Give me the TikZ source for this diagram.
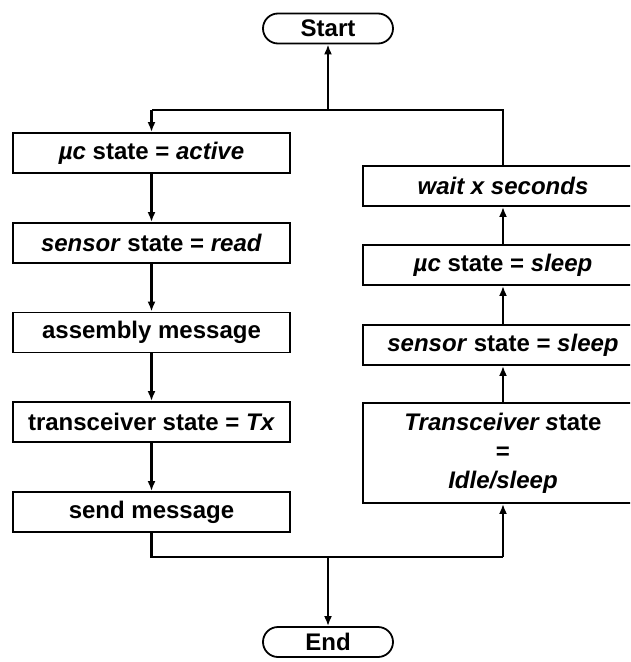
\documentclass[tikz,border=0pt]{standalone}
\usepackage{fontspec}
\setmainfont{Liberation Sans}
\usetikzlibrary{arrows.meta}
\begin{document}
\begin{tikzpicture}[x=1pt,y=-1pt,
  every node/.style={font=\bfseries\fontsize{24}{29}\selectfont},
  box/.style={draw, line width=1.8pt, minimum height=40pt, inner sep=0pt, align=center},
  leftbox/.style={box, minimum width=277pt},
  rightbox/.style={box, minimum width=280pt},
  term/.style={draw, line width=1.8pt, rounded corners=15pt, minimum width=130pt, minimum height=30pt, inner sep=0pt},
  link/.style={line width=2.4pt},
  flow/.style={link, -{Latex[length=10pt,width=8pt]}}]
\useasboundingbox (0,0) rectangle (630,662);
\clip (0,0) rectangle (630,662);

% terminals
\node[term] (start) at (328,28.5) {Start};
\node[term] (end) at (328,642) {End};

% left column: wake-up and transmit
\node[leftbox] (a1) at (151.5,153) {\textit{µc} state = \textit{active}};
\node[leftbox] (a2) at (151.5,243) {\textit{sensor} state = \textit{read}};
\node[leftbox] (a3) at (151.5,332.5) {assembly message};
\node[leftbox] (a4) at (151.5,422) {transceiver state = \textit{Tx}};
\node[leftbox] (a5) at (151.5,512) {send message};

% right column: go back to sleep
\node[rightbox] (b1) at (503,186) {\textit{wait x seconds}};
\node[rightbox] (b2) at (503,265) {\textit{µc} state = \textit{sleep}};
\node[rightbox] (b3) at (503,345) {\textit{sensor} state = \textit{sleep}};
\node[rightbox, minimum height=100pt] (b4) at (503,453) {\textit{Transceiver s}tate\\=\\\textit{Idle/sleep}};

% junction points
\coordinate (tl) at (a1.north |- 0,110);
\coordinate (tm) at (start.south |- 0,110);
\coordinate (tr) at (b1.north |- 0,110);
\coordinate (bl) at (a5.south |- 0,557);
\coordinate (bm) at (end.north |- 0,557);
\coordinate (br) at (b4.south |- 0,557);

% top loop
\draw[link] (b1.north) -- (tr) -- (tl);
\draw[flow] (tm) -- (start.south);
\draw[flow] (tl) -- (a1.north);

% left column
\draw[flow] (a1) -- (a2);
\draw[flow] (a2) -- (a3);
\draw[flow] (a3) -- (a4);
\draw[flow] (a4) -- (a5);

% bottom split
\draw[link] (a5.south) -- (bl) -- (br);
\draw[flow] (bm) -- (end.north);
\draw[flow] (br) -- (b4.south);

% right column
\draw[flow] (b4) -- (b3);
\draw[flow] (b3) -- (b2);
\draw[flow] (b2) -- (b1);
\end{tikzpicture}
\end{document}
